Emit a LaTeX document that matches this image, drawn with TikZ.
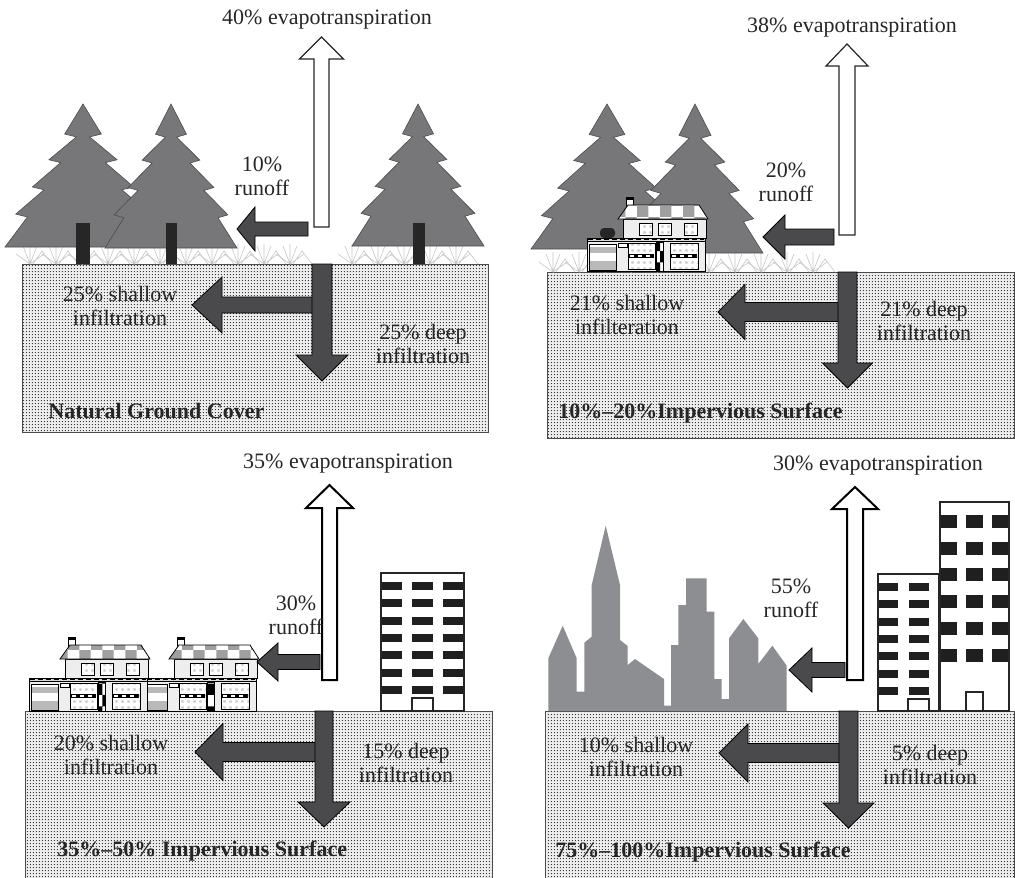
\documentclass[tikz,border=0pt]{standalone}
\usepackage{fontspec}
\setmainfont{Liberation Serif}
\usetikzlibrary{patterns,patterns.meta}

% dotted soil texture
\tikzdeclarepattern{
  name=soil,
  type=uncolored,
  bottom left={(0pt,0pt)},
  top right={(1.65pt,1.65pt)},
  tile size={(1.65pt,1.65pt)},
  code={\fill (0.82pt,0.82pt) circle[radius=0.36pt];}
}
% speckled window glass
\tikzdeclarepattern{
  name=wdots,
  type=uncolored,
  bottom left={(0pt,0pt)},
  top right={(3pt,3pt)},
  tile size={(3pt,3pt)},
  code={\fill (0.8pt,0.8pt) rectangle (2pt,2pt);}
}

\definecolor{txt}{HTML}{262626}
\definecolor{flowfill}{HTML}{4A4A4C}
\definecolor{treefill}{HTML}{77777A}
\definecolor{cityfill}{HTML}{8D8E91}
\definecolor{wall}{HTML}{EEEEEE}

% soil block with border
\newcommand\ground[4]{%
  \fill[gray!14] (#1,#2) rectangle (#3,#4);
  \fill[pattern=soil, pattern color=black!85] (#1,#2) rectangle (#3,#4);
  \draw[soiledge] (#1,#2) rectangle (#3,#4);}

% block arrow pointing left: tip x, centre y, head base x, tail x, head half, shaft half
\newcommand\flowleft[6]{%
  \draw[flow] (#1,#2) -- (#3,{#2-#5}) -- (#3,{#2-#6}) -- (#4,{#2-#6})
    -- (#4,{#2+#6}) -- (#3,{#2+#6}) -- (#3,{#2+#5}) -- cycle;}

% vertical block arrow: style, centre x, tip y, head base y, tail y, head half, shaft half
\newcommand\vflow[7]{%
  \draw[#1] (#2,#3) -- ({#2+#6},#4) -- ({#2+#7},#4) -- ({#2+#7},#5)
    -- ({#2-#7},#5) -- ({#2-#7},#4) -- ({#2-#6},#4) -- cycle;}

% pine canopy: apex x, apex y, height, base half width
\newcommand\pine[4]{%
  \filldraw[tree] (#1,#2)
    \foreach \t in {0.21,0.39,0.58,0.77}{
      -- ({#1+1.12*\t*#4},{#2+\t*#3}) -- ({#1+1.12*\t*#4-0.15*#4},{#2+\t*#3+0.02*#3}) }
    -- ({#1+#4},{#2+#3}) -- ({#1-#4},{#2+#3})
    \foreach \t in {0.77,0.58,0.39,0.21}{
      -- ({#1-1.12*\t*#4+0.15*#4},{#2+\t*#3+0.02*#3}) -- ({#1-1.12*\t*#4},{#2+\t*#3}) }
    -- cycle;}

% grass tuft at base point
\newcommand\tuft[2]{%
  \draw[grass] (#1-14,#2-10) -- (#1,#2) -- (#1-7,#2-18)
    (#1,#2) -- (#1,#2-20) (#1,#2) -- (#1+7,#2-18) (#1,#2) -- (#1+14,#2-10)
    (#1+3,#2) -- (#1+12,#2-13) -- (#1+22,#2);}

% two storey house: left x, ground y
\newcommand\house[2]{%
  \begin{scope}[shift={(#1,#2)}]
    \filldraw[hline, fill=wall] (0,0) rectangle (118,-30);
    \filldraw[hline, fill=white] (2,-1) rectangle (29,-27);
    \fill[gray!55] (2.5,-24) rectangle (28.5,-18);
    \fill[gray!55] (2.5,-10) rectangle (28.5,-1.5);
    \filldraw[hline, fill=white] (31,-28) rectangle (40,-24);
    \foreach \a/\b in {41/68,83/111}{
      \filldraw[hline, fill=white] (\a,-28) rectangle (\b,-2);
      \fill[pattern=wdots, pattern color=gray!45] (\a,-28) rectangle (\b,-2);
      \fill[black] (\a+1,-17) rectangle (\b-1,-13);
      \draw[white, line width=0.6pt, dash pattern=on 2pt off 2pt] (\a+2,-15) -- (\b-2,-15);
      \draw[hline] (\a,-28) rectangle (\b,-2);}
    \fill[white] (69,-29) rectangle (76,0);
    \fill[pattern=checkerboard, pattern color=black] (69,-29) rectangle (76,0);
    \draw[hline] (69,-29) rectangle (76,0);
    \filldraw[hline, fill=gray!30] (0,-30) rectangle (118,-33);
    \draw[black, line width=0.8pt, dash pattern=on 2.5pt off 1.5pt] (1,-31.5) -- (117,-31.5);
    \filldraw[hline, fill=wall] (36,-33) rectangle (119,-52);
    \foreach \a in {52,71,97}{
      \filldraw[hline, fill=white] (\a,-48) rectangle (\a+13,-36);
      \fill[pattern=wdots, pattern color=gray!45] (\a,-48) rectangle (\a+13,-36);
      \draw[hline] (\a,-48) rectangle (\a+13,-36);}
    \filldraw[hline, fill=white] (39,-60) rectangle (46,-72);
    \fill[black] (38.5,-72) rectangle (46.5,-74);
    \fill[white] (31,-52) -- (121,-52) -- (112,-66) -- (41,-66) -- cycle;
    \fill[pattern=checkerboard, pattern color=gray!75] (31,-52) -- (121,-52) -- (112,-66) -- (41,-66) -- cycle;
    \draw[hline] (31,-52) -- (121,-52) -- (112,-66) -- (41,-66) -- cycle;
  \end{scope}}

\begin{document}
\begin{tikzpicture}[x=0.5pt,y=-0.5pt,
  soiledge/.style={draw=black!70, line width=0.5pt},
  flow/.style={fill=flowfill, draw=black, line width=0.4pt, line join=miter},
  evap/.style={fill=white, draw=black!85, line width=0.6pt, line join=miter},
  evapb/.style={fill=white, draw=black, line width=1pt, line join=miter},
  tree/.style={fill=treefill, draw=black!70, line width=0.3pt},
  trunk/.style={fill=black!85},
  grass/.style={draw=gray!45, line width=0.3pt},
  hline/.style={draw=black, line width=0.4pt},
  bld/.style={fill=white, draw=black!85, line width=0.6pt},
  win/.style={fill=black!88},
  lbl/.style={font=\fontsize{11}{12}\selectfont, text=txt, align=center, inner sep=0pt},
  ttl/.style={font=\fontsize{11}{12}\selectfont\bfseries, text=txt, anchor=west, inner sep=0pt}]
\useasboundingbox (0,0) rectangle (1015,877);
\clip (0,0) rectangle (1015,877);

%% ---------------- natural ground cover ----------------
\ground{22}{264}{488}{432}
\foreach \x in {30,56,...,300} {\tuft{\x}{264}}
\foreach \x in {352,378,...,480} {\tuft{\x}{264}}
\pine{83}{104}{143}{78}
\fill[trunk] (76,223) rectangle (90,264);
\pine{171}{104}{144}{66}
\fill[trunk] (166,223) rectangle (177,264);
\pine{418}{104}{142}{66}
\fill[trunk] (413,223) rectangle (425,264);

\vflow{evap}{321.5}{37}{59}{227}{22}{7.5}
\flowleft{237}{229}{255}{308}{22}{7}
\flowleft{192}{305}{222}{314}{28}{8}
\vflow{flow}{322}{381}{355}{264}{26}{10}

\node[lbl] (evA) at (327,20) {40\% evapotranspiration};
\node[lbl] (roA) at (262,176) {10\%\\runoff};
\node[lbl] (shA) at (120,306) {25\% shallow\\infiltration};
\node[lbl] (dpA) at (423,344) {25\% deep\\infiltration};
\node[ttl] (ttA) at (48,411) {Natural Ground Cover};

%% ---------------- 10%-20% impervious ----------------
\ground{547}{272}{1014}{438}
\foreach \x in {553,579,...,830} {\tuft{\x}{272}}
\pine{607}{104}{145}{76}
\pine{695}{104}{149}{68}
\house{587}{271}
\fill[black!85, rounded corners=2pt] (600,238) rectangle (615,228);

\vflow{evap}{847}{44}{66}{235}{21}{8}
\flowleft{763}{237}{785}{834}{22}{8}
\flowleft{718}{312}{745}{840}{27.5}{9.5}
\vflow{flow}{847.5}{388}{363}{272}{25}{9.5}

\node[lbl] (evB) at (852,28) {38\% evapotranspiration};
\node[lbl] (roB) at (786,182) {20\%\\runoff};
\node[lbl] (shB) at (627,315) {21\% shallow\\infilteration};
\node[lbl] (dpB) at (924,321) {21\% deep\\infiltration};
\node[ttl] (ttB) at (558,413) {10\%--20\%Impervious Surface};

%% ---------------- 35%-50% impervious ----------------
\ground{25}{711}{492}{880}
\house{138}{711}
\house{29}{711}
\draw[bld] (381,573) rectangle (464,711);
\foreach \k in {0,...,6}{
  \foreach \a/\b in {382/402,412/433,443/463}{
    \fill[win] (\a,{582+17.3*\k}) rectangle (\b,{590+17.3*\k});}}
\draw[bld] (412,698) rectangle (433,711);

\vflow{evapb}{329.5}{485}{508}{680}{23.5}{7.5}
\flowleft{257}{662}{278}{320}{19}{7.5}
\flowleft{195}{752}{223}{316}{28.5}{9.5}
\vflow{flow}{324}{827}{802}{711}{26}{9}

\node[lbl] (evC) at (348,464) {35\% evapotranspiration};
\node[lbl] (roC) at (296,615) {30\%\\runoff};
\node[lbl] (shC) at (111,755) {20\% shallow\\infiltration};
\node[lbl] (dpC) at (406,763) {15\% deep\\infiltration};
\node[ttl] (ttC) at (57,851) {35\%--50\% Impervious Surface};

%% ---------------- 75%-100% impervious ----------------
\ground{545}{711}{1014}{880}
\fill[cityfill] (548.3,711) -- (548.3,658.3) -- (562.7,625.7) -- (576.7,658.3)
  -- (576.7,691.7) -- (584.3,691.7) -- (584.3,642.7) -- (591.7,636.7)
  -- (591.7,585) -- (605.7,525.7) -- (620,585) -- (620,640) -- (627.7,646)
  -- (627.7,665) -- (635,659) -- (664,679) -- (664,705.7) -- (671,705.7)
  -- (671,645) -- (678.3,645) -- (678.3,605) -- (686,605) -- (686,578.3)
  -- (706.7,578.3) -- (706.7,611.7) -- (714.3,611.7) -- (714.3,679)
  -- (721.7,679) -- (721.7,699) -- (729,699) -- (729,638.3) -- (743.3,619)
  -- (758.3,638.3) -- (758.3,664) -- (772.3,645.7) -- (786.7,665.7)
  -- (786.7,711) -- cycle;
\draw[bld] (878,574) rectangle (939,711);
\foreach \k in {0,...,6}{
  \foreach \a/\b in {879/898,909/929}{
    \fill[win] (\a,{583+17.3*\k}) rectangle (\b,{591+17.3*\k});}}
\draw[bld] (908,699) rectangle (929,711);
\draw[bld] (940,502) rectangle (1009,711);
\foreach \k in {0,...,5}{
  \foreach \a/\b in {941/957,966/983,992/1008}{
    \fill[win] (\a,{515+26.7*\k}) rectangle (\b,{528+26.7*\k});}}
\draw[bld] (966,692) rectangle (983,711);

\vflow{evapb}{855}{487}{509}{680}{23}{8}
\flowleft{789}{670}{812}{845}{22}{7.5}
\flowleft{719}{753}{748}{840}{29}{9.5}
\vflow{flow}{848.5}{828}{803}{711}{25.5}{9.5}

\node[lbl] (evD) at (878,466) {30\% evapotranspiration};
\node[lbl] (roD) at (791,598) {55\%\\runoff};
\node[lbl] (shD) at (636,757) {10\% shallow\\infiltration};
\node[lbl] (dpD) at (930,765) {5\% deep\\infiltration};
\node[ttl] (ttD) at (555,852) {75\%--100\%Impervious Surface};
\end{tikzpicture}
\end{document}
